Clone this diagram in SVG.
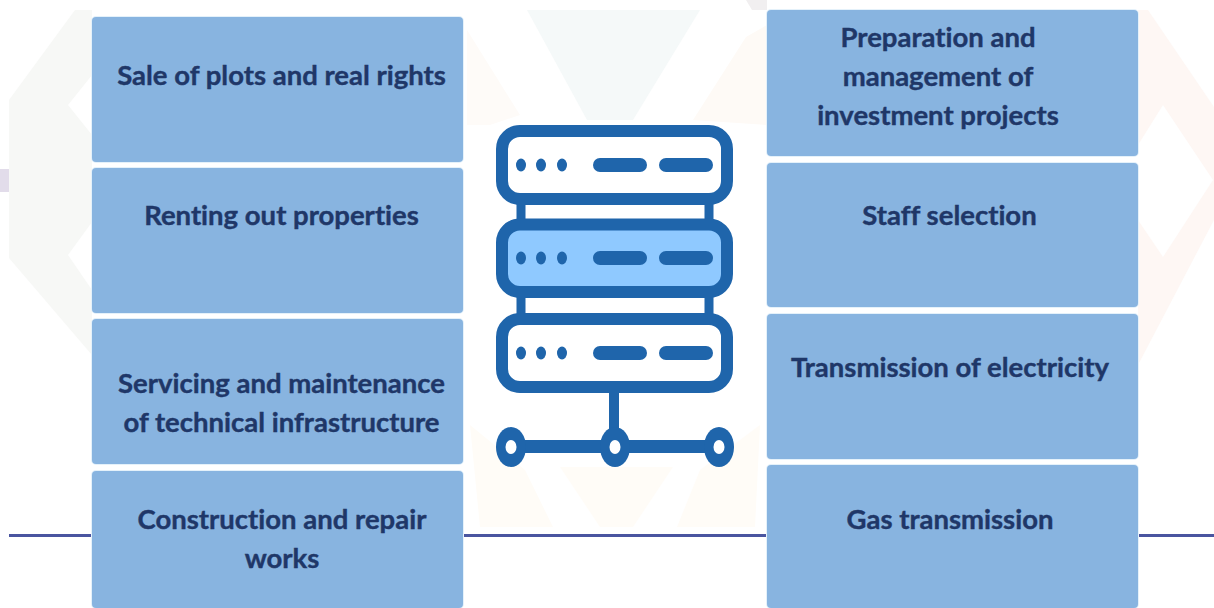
<svg xmlns="http://www.w3.org/2000/svg" width="1214" height="608" viewBox="0 0 1214 608">
<style>
.box{fill:#88b4e0;stroke:#e4f1fa;stroke-width:2;paint-order:stroke}
.t{font-family:"Lato","Liberation Sans",sans-serif;font-weight:700;font-size:27.500px;fill:#1f3768;stroke:#1f3768;stroke-width:.4;text-anchor:middle;font-variant-ligatures:none}
.s{fill:none;stroke:#1f65ab;stroke-width:12}
.d{fill:#1f65ab}
.l{stroke:#4a55a0;stroke-width:3;fill:none}
</style>
<rect width="1214" height="608" fill="#fff"/>
<g id="watermark">
<path d="M75 10H92V75L68 105L92 135V222L68 255L92 290V355L9 258V100Z" fill="#f7f8f6"/>
<path d="M0 169H9V192H0Z" fill="#e2dcea"/>
<path d="M527 10H700L633 120H587Z" fill="#f5f9f9"/>
<path d="M467 30L520 115L490 125H467Z" fill="#fefbf8"/>
<path d="M767 25L746 37L693 120L767 125Z" fill="#fefaf6"/>
<path d="M746 0H767V10H752Z" fill="#f1eff0"/>
<path d="M470 425L525 470L553 527H480Z" fill="#fffcf7"/>
<path d="M560 467H673L633 527H600Z" fill="#fffcf7"/>
<path d="M760 425L700 470L677 527H755Z" fill="#fffcf7"/>
<path fill-rule="evenodd" d="M1138 10H1148L1214 107V220L1138 365ZM1138 145L1163 105L1213 180L1163 257L1138 220Z" fill="#fef7f4"/>
</g>
<g id="connectors">
<path class="l" d="M9 535.500H1214"/>
</g>
<g id="node-sale"><rect class="box" x="92" y="17" width="371" height="145" rx="4"/><text class="t" x="281.500" y="85">Sale of plots and real rights</text></g>
<g id="node-renting"><rect class="box" x="92" y="168" width="371" height="145" rx="4"/><text class="t" x="281.500" y="225">Renting out properties</text></g>
<g id="node-servicing"><rect class="box" x="92" y="319" width="371" height="145" rx="4"/><text class="t" x="281.500" y="393">Servicing and maintenance</text><text class="t" x="281.500" y="432">of technical infrastructure</text></g>
<g id="node-construction"><rect class="box" x="92" y="471" width="371" height="137" rx="4"/><text class="t" x="282" y="529">Construction and repair</text><text class="t" x="282" y="568">works</text></g>
<g id="node-preparation"><rect class="box" x="767" y="10" width="371" height="146" rx="4"/><text class="t" x="938" y="47">Preparation and</text><text class="t" x="938" y="86">management of</text><text class="t" x="938" y="125">investment projects</text></g>
<g id="node-staff"><rect class="box" x="767" y="163" width="371" height="144" rx="4"/><text class="t" x="949.500" y="225">Staff selection</text></g>
<g id="node-electricity"><rect class="box" x="767" y="314" width="371" height="145" rx="4"/><text class="t" x="950" y="377">Transmission of electricity</text></g>
<g id="node-gas"><rect class="box" x="767" y="465" width="371" height="143" rx="4"/><text class="t" x="950" y="529">Gas transmission</text></g>
<g id="server-icon">
<path class="s" style="stroke-width:9" d="M521 200V225M709 200V225M521 295V320M709 295V320"/>
<rect class="s" x="502" y="131" width="225" height="68" rx="18" style="fill:#fff"/>
<rect class="s" x="502" y="224.500" width="225" height="67.500" rx="18" style="fill:#8fc9ff"/>
<rect class="s" x="502" y="319" width="225" height="68" rx="18" style="fill:#fff"/>
<g id="leds-1"><ellipse class="d" cx="521" cy="165" rx="5" ry="6.500"/><ellipse class="d" cx="541" cy="165" rx="5" ry="6.500"/><ellipse class="d" cx="562" cy="165" rx="5" ry="6.500"/><rect class="d" x="593" y="158" width="54" height="14" rx="7"/><rect class="d" x="659" y="158" width="54" height="14" rx="7"/></g>
<g id="leds-2"><ellipse class="d" cx="521" cy="258" rx="5" ry="6.500"/><ellipse class="d" cx="541" cy="258" rx="5" ry="6.500"/><ellipse class="d" cx="562" cy="258" rx="5" ry="6.500"/><rect class="d" x="593" y="251" width="54" height="14" rx="7"/><rect class="d" x="659" y="251" width="54" height="14" rx="7"/></g>
<g id="leds-3"><ellipse class="d" cx="521" cy="353" rx="5" ry="6.500"/><ellipse class="d" cx="541" cy="353" rx="5" ry="6.500"/><ellipse class="d" cx="562" cy="353" rx="5" ry="6.500"/><rect class="d" x="593" y="346" width="54" height="14" rx="7"/><rect class="d" x="659" y="346" width="54" height="14" rx="7"/></g>
<path class="d" d="M609 393H619V440H710V453H520V440H609Z"/>
<ellipse class="d" cx="511" cy="447" rx="15" ry="20"/><ellipse class="d" cx="615" cy="447" rx="15" ry="20"/><ellipse class="d" cx="719" cy="447" rx="15" ry="20"/>
<ellipse cx="511" cy="447" rx="5.500" ry="7" fill="#fff"/><ellipse cx="615" cy="447" rx="5.500" ry="7" fill="#fff"/><ellipse cx="719" cy="447" rx="5.500" ry="7" fill="#fff"/>
</g>
</svg>
